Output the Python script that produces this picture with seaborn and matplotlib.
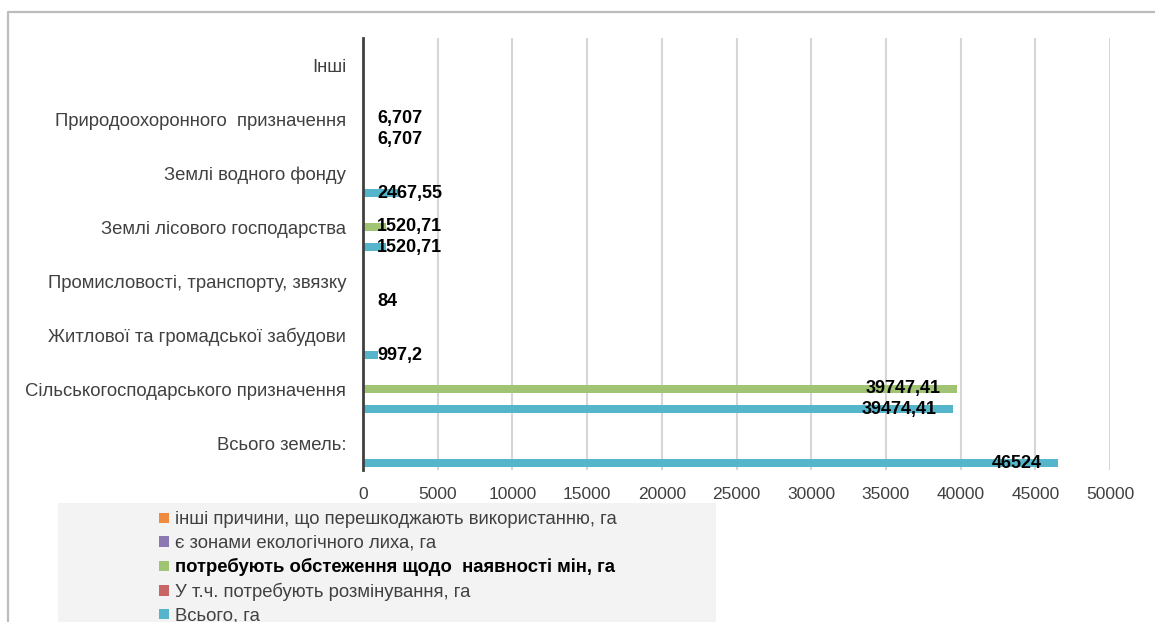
import numpy as np
import pandas as pd
import matplotlib
matplotlib.use("Agg")
import matplotlib.pyplot as plt
from matplotlib.patches import Patch, Rectangle
from matplotlib.lines import Line2D
import seaborn as sns

# ---------------- data ----------------
categories = ["Інші",
              "Природоохоронного  призначення",
              "Землі водного фонду",
              "Землі лісового господарства",
              "Промисловості, транспорту, звязку",
              "Житлової та громадської забудови",
              "Сільськогосподарського призначення",
              "Всього земель:"]
series = ["інші причини, що перешкоджають використанню, га",
          "є зонами екологічного лиха, га",
          "потребують обстеження щодо  наявності мін, га",
          "У т.ч. потребують розмінування, га",
          "Всього, га"]
other_reasons = [0, 0, 0, 0, 0, 0, 0, 0]
eco_disaster = [0, 0, 0, 0, 0, 0, 0, 0]
mine_survey = [0, 6.707, 0, 1520.71, 0, 0, 39747.41, 0]
demining = [0, 0, 0, 0, 0, 0, 0, 0]
total = [0, 6.707, 2467.55, 1520.71, 84, 997.2, 39474.41, 46524]
x_ticks = [0, 5000, 10000, 15000, 20000, 25000, 30000, 35000, 40000, 45000, 50000]

colors = ["#f08a3e", "#8a78b0", "#a0c474", "#c96565", "#55b5ca"]

values_by_series = [other_reasons, eco_disaster, mine_survey, demining, total]
rows = []
for s, vals in zip(series, values_by_series):
    for c, v in zip(categories, vals):
        rows.append({"category": c, "series": s, "value": v})
df = pd.DataFrame(rows)

# ---------------- style ----------------
sns.set_style("white")
plt.rcParams["font.family"] = ["Liberation Sans", "DejaVu Sans"]

W, H = 1155, 622
fig = plt.figure(figsize=(W / 100, H / 100), dpi=100)

# outer chart border (top & left visible)
fig.add_artist(Line2D([8 / W, 8 / W, 1.0], [0.0, 1 - 12 / H, 1 - 12 / H],
                      transform=fig.transFigure, color="#bcbcbc", lw=1.6))
# legend background
fig.add_artist(Rectangle((58 / W, 0.0), (716 - 58) / W, (622 - 503) / H,
                         transform=fig.transFigure, facecolor="#f3f3f3",
                         edgecolor="none", zorder=0))

ax = fig.add_axes([363 / W, 1 - 470 / H, (1110 - 363) / W, 432 / H])
sns.barplot(data=df, y="category", x="value", hue="series",
            order=categories, hue_order=series, palette=colors,
            orient="h", width=0.93, gap=0.18, errorbar=None,
            saturation=1, linewidth=0, legend=False, ax=ax)

ax.set_xlim(0, 50000)
ax.set_xticks(x_ticks)
ax.set_xlabel("")
ax.set_ylabel("")
ax.grid(axis="x", color="#d6d6d6", lw=1.5)
ax.grid(axis="y", visible=False)
ax.set_axisbelow(True)
for sp in ["top", "right", "bottom"]:
    ax.spines[sp].set_visible(False)
ax.spines["left"].set_color("#404040")
ax.spines["left"].set_linewidth(2)
ax.tick_params(axis="x", length=0, pad=12, labelsize=12.5, labelcolor="#404040")
ax.tick_params(axis="y", length=0, pad=12, labelsize=13.3, labelcolor="#404040")


def fmt(v):
    s = str(v)
    if s.endswith(".0"):
        s = s[:-2]
    return s.replace(".", ",")


# data labels
for cont in ax.containers:
    for p in cont.patches:
        w = p.get_width()
        if not w or np.isnan(w):
            continue
        yc = p.get_y() + p.get_height() / 2
        if w > 5000:
            ax.annotate(fmt(w), xy=(w, yc), xytext=(-16, 0), textcoords="offset pixels",
                        ha="right", va="center", fontsize=13, fontweight="bold",
                        color="black")
        else:
            ax.annotate(fmt(w), xy=(0, yc), xytext=(14, 0), textcoords="offset pixels",
                        ha="left", va="center", fontsize=13, fontweight="bold",
                        color="black")

handles = [Patch(facecolor=c, edgecolor="none") for c in colors]
leg = fig.legend(handles, series, loc="upper left",
                 bbox_to_anchor=(152 / W, 1 - 504 / H), frameon=False,
                 handlelength=0.5, handleheight=0.5, handletextpad=0.35,
                 labelspacing=0.35, fontsize=13.3, borderaxespad=0)
for t in leg.get_texts():
    t.set_color("#404040")
leg.get_texts()[2].set_fontweight("bold")
leg.get_texts()[2].set_color("black")

fig.savefig("out.png", dpi=100)
